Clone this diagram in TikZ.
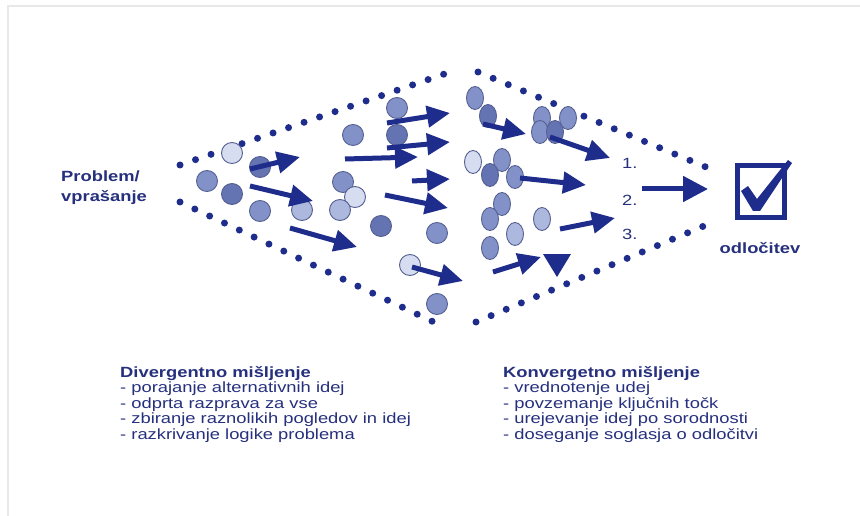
\documentclass[tikz,border=0pt]{standalone}
\usepackage{fontspec}
\setmainfont{Liberation Sans}
\usetikzlibrary{arrows.meta,shapes.geometric}
\definecolor{navy}{RGB}{30,44,140}
\definecolor{txt}{RGB}{38,48,125}
\definecolor{bM}{RGB}{130,146,200}
\definecolor{bD}{RGB}{100,115,178}
\definecolor{bL}{RGB}{172,184,222}
\definecolor{bV}{RGB}{214,221,240}
\definecolor{bO}{RGB}{85,95,145}
\newcommand{\wide}[1]{\scalebox{1.24}[1]{#1}}
\begin{document}
\begin{tikzpicture}[x=1pt,y=-1pt,
  ball/.style={circle,draw=bO,line width=0.9pt,minimum size=21pt,inner sep=0pt},
  egg/.style={ellipse,draw=bO,line width=0.9pt,minimum width=17pt,minimum height=23pt,inner sep=0pt},
  flow/.style={draw=navy,line width=5pt,-{Triangle[length=23pt,width=21pt]}},
  bigflow/.style={draw=navy,line width=5pt,-{Triangle[length=25pt,width=25pt]}},
  dotline/.style={draw=navy,line width=7pt,line cap=round,dash pattern=on 0pt off 16.4pt},
  lbl/.style={text=txt,font=\fontsize{14.8}{15.6}\selectfont,inner sep=0pt},
]
\useasboundingbox (0,0) rectangle (860,516);
\fill[white] (0,0) rectangle (860,516);
\draw[gray!18,line width=2pt] (8,516) -- (8,6) -- (860,6);

% dotted outline
\coordinate (ul1) at (180,165); \coordinate (ul2) at (453,71);
\coordinate (ur1) at (478,72);  \coordinate (ur2) at (713,170);
\coordinate (ll1) at (180,202); \coordinate (ll2) at (440,325);
\coordinate (lr1) at (476,322); \coordinate (lr2) at (711,223);
\draw[dotline] (ul1) -- (ul2);
\draw[dotline] (ur1) -- (ur2);
\draw[dotline] (ll1) -- (ll2);
\draw[dotline] (lr1) -- (lr2);

% round ideas
\foreach \n/\x/\y/\f in {1/232/153/bV, 2/207/181/bM, 3/232/194/bD, 4/260/211/bM,
  5/260/167/bD, 6/302/210/bL, 7/353/135/bM, 8/343/182/bM, 9/355/197/bV,
  10/340/210/bL, 11/381/226/bD, 12/397/108/bM, 13/397/135/bD, 14/410/265/bV,
  15/437/304/bM, 16/437/233/bM}
  \node[ball,fill=\f] (c\n) at (\x,\y) {};

% oval ideas
\foreach \n/\x/\y/\f in {1/475/98/bM, 2/488/116/bD, 3/542/118/bM, 4/540/132/bM,
  5/555/132/bD, 6/568/118/bM, 7/473/162/bV, 8/502/160/bM, 9/490/175/bD,
  10/515/177/bM, 11/502/204/bM, 12/490/219/bM, 13/515/234/bL, 14/490/248/bM,
  15/542/219/bL}
  \node[egg,fill=\f] (e\n) at (\x,\y) {};

% arrows
\foreach \n/\ax/\ay/\bx/\by in {1/250/169/300/157, 2/250/186/313/201,
  3/290/228/357/247, 4/387/123/450/113, 5/387/148/450/142, 6/345/159/418/157,
  7/412/181/450/179, 8/385/195/448/208, 9/412/267/463/281, 10/483/124/526/134,
  11/550/137/610/158, 12/520/178/586/185, 13/560/229/615/218, 14/493/272/541/257}
{
  \coordinate (s\n) at (\ax,\ay);
  \coordinate (t\n) at (\bx,\by);
  \draw[flow] (s\n) -- (t\n);
}
\fill[navy] (543,254) -- (571,254) -- (557,277) -- cycle;

\coordinate (s15) at (642,189);
\coordinate (t15) at (708,189);
\draw[bigflow] (s15) -- (t15);

% numbers
\node[lbl,anchor=base west] (n1) at (622,169) {\wide{1.}};
\node[lbl,anchor=base west] (n2) at (622,205) {\wide{2.}};
\node[lbl,anchor=base west] (n3) at (622,240) {\wide{3.}};

% decision box
\node[draw=navy,line width=5pt,minimum width=47pt,minimum height=52pt,inner sep=0pt] (box) at (761,191.5) {};
\fill[navy] (741,191) -- (748,186) -- (757,199) -- (788,160) -- (792,163) -- (760,211) -- (753,211) -- cycle;
\node[lbl,anchor=base] (odl) at (760,253) {\wide{\textbf{odločitev}}};

% problem label
\node[lbl,anchor=base west] (prob) at (61,182) {\wide{\textbf{Problem/}}};
\node[lbl,anchor=base west] (vpr) at (61,202) {\wide{\textbf{vprašanje}}};

% bottom texts
\node[lbl,anchor=base west] (div) at (120,377) {\wide{\begin{tabular}[t]{@{}l@{}}\textbf{Divergentno mišljenje}\\- porajanje alternativnih idej\\- odprta razprava za vse\\- zbiranje raznolikih pogledov in idej\\- razkrivanje logike problema\end{tabular}}};
\node[lbl,anchor=base west] (kon) at (503,377) {\wide{\begin{tabular}[t]{@{}l@{}}\textbf{Konvergetno mišljenje}\\- vrednotenje udej\\- povzemanje ključnih točk\\- urejevanje idej po sorodnosti\\- doseganje soglasja o odločitvi\end{tabular}}};
\end{tikzpicture}
\end{document}
